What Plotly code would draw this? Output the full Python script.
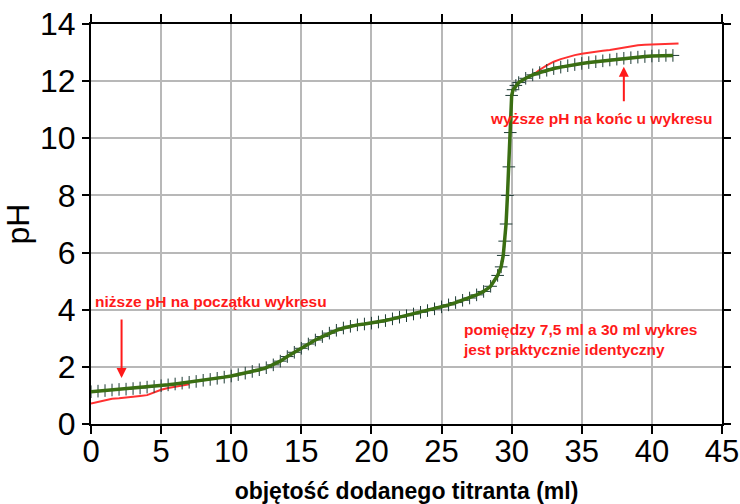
import plotly.graph_objects as go

# Measured titration curve (green)
vol_meas = [0, 0.5, 1, 1.5, 2, 2.5, 3, 3.5, 4, 4.5, 5, 5.5, 6, 6.5, 7, 7.5, 8, 8.5, 9, 9.5,
            10, 10.5, 11, 11.5, 12, 12.5, 13, 13.5, 14, 14.5, 15, 15.5, 16, 16.5, 17, 17.5,
            18, 18.5, 19, 19.5, 20, 20.5, 21, 21.5, 22, 22.5, 23, 23.5, 24, 24.5, 25, 25.5,
            26, 26.5, 27, 27.5, 28, 28.5, 29, 29.25, 29.4, 29.5, 29.6, 29.7, 29.8, 29.9, 30.0,
            30.1, 30.3, 30.5, 31, 31.5, 32, 32.5, 33, 33.5, 34, 34.5, 35, 35.5, 36, 36.5, 37,
            37.5, 38, 38.5, 39, 39.5, 40, 40.5, 41, 41.5]
ph_meas = [1.13, 1.15, 1.17, 1.19, 1.21, 1.22, 1.24, 1.26, 1.29, 1.31, 1.34, 1.37, 1.40, 1.43,
           1.46, 1.49, 1.53, 1.56, 1.60, 1.64, 1.68, 1.73, 1.78, 1.84, 1.90, 1.97, 2.07, 2.20,
           2.36, 2.51, 2.65, 2.80, 2.94, 3.06, 3.18, 3.28, 3.36, 3.42, 3.47, 3.50, 3.53, 3.57,
           3.62, 3.68, 3.74, 3.79, 3.85, 3.91, 3.97, 4.03, 4.10, 4.17, 4.25, 4.33, 4.41, 4.52,
           4.64, 4.82, 5.20, 5.5, 5.9, 6.4, 7.0, 8.0, 9.0, 10.2, 11.5, 11.7, 11.85, 11.95,
           12.10, 12.22, 12.30, 12.38, 12.44, 12.49, 12.54, 12.58, 12.62, 12.65, 12.68, 12.71,
           12.74, 12.77, 12.80, 12.82, 12.84, 12.86, 12.88, 12.89, 12.90, 12.90]

# Comparison curve (red) - visible only where it differs
vol_ref = [0, 0.5, 1, 1.5, 2, 2.5, 3, 3.5, 4, 4.5, 5, 5.5, 6, 6.5, 7, None,
           31.6, 32, 32.5, 33, 33.5, 34, 34.5, 35, 35.5, 36, 36.5, 37, 37.5, 38, 38.5, 39,
           39.5, 40, 40.5, 41, 41.5, 41.9]
ph_ref = [0.72, 0.78, 0.84, 0.88, 0.90, 0.92, 0.95, 0.98, 1.01, 1.10, 1.20, 1.26, 1.30, 1.34,
          1.39, None,
          12.25, 12.40, 12.55, 12.68, 12.77, 12.85, 12.91, 12.96, 13.00, 13.03, 13.06, 13.09,
          13.13, 13.18, 13.23, 13.26, 13.27, 13.28, 13.29, 13.31, 13.32, 13.32]

x_ticks = [0, 5, 10, 15, 20, 25, 30, 35, 40, 45]
y_ticks = [0, 2, 4, 6, 8, 10, 12, 14]

FONT = "Liberation Sans, Arial, sans-serif"
RED = "#ff1a1a"

fig = go.Figure()
fig.add_trace(go.Scatter(x=vol_ref, y=ph_ref, mode="lines",
                         line=dict(color="#ff3030", width=2), connectgaps=False,
                         showlegend=False, hoverinfo="skip"))
fig.add_trace(go.Scatter(x=vol_meas, y=ph_meas, mode="markers",
                         marker=dict(symbol="cross-thin", size=9,
                                     line=dict(color="#1d3b35", width=1)),
                         showlegend=False, hoverinfo="skip"))
fig.add_trace(go.Scatter(x=vol_meas, y=ph_meas, mode="lines",
                         line=dict(color="#3a6e12", width=3.5),
                         showlegend=False))

ann = []
ann.append(dict(x=0.15, y=4.28, xref="x", yref="y", text="<b>niższe pH na początku wykresu</b>",
                showarrow=False, xanchor="left", yanchor="middle",
                font=dict(family=FONT, size=15.5, color=RED)))
ann.append(dict(x=28.3, y=10.71, xref="x", yref="y", text="<b>wyższe pH na końc u wykresu</b>",
                showarrow=False, xanchor="left", yanchor="middle",
                font=dict(family=FONT, size=15.5, color=RED)))
ann.append(dict(x=26.4, y=2.96, xref="x", yref="y",
                text="<b>pomiędzy 7,5 ml a 30 ml wykres<br>jest praktycznie identyczny</b>",
                showarrow=False, xanchor="left", yanchor="middle", align="left",
                font=dict(family=FONT, size=15.5, color=RED)))
# arrows
ann.append(dict(x=2.18, y=1.61, ax=2.18, ay=3.71, xref="x", yref="y", axref="x", ayref="y",
                text="", showarrow=True, arrowhead=2, arrowsize=1, arrowwidth=2,
                arrowcolor=RED))
ann.append(dict(x=38.0, y=12.5, ax=38.0, ay=11.24, xref="x", yref="y", axref="x", ayref="y",
                text="", showarrow=True, arrowhead=2, arrowsize=1, arrowwidth=2,
                arrowcolor=RED))

fig.update_layout(
    width=740, height=504,
    margin=dict(l=91, r=18, t=24, b=80),
    paper_bgcolor="white", plot_bgcolor="white",
    font=dict(family=FONT, color="black"),
    annotations=ann,
    xaxis=dict(range=[0, 45], tickvals=x_ticks, ticktext=[str(v) for v in x_ticks],
               showgrid=True, gridcolor="#b8b8b8", gridwidth=2,
               showline=True, linecolor="black", linewidth=2, mirror="ticks",
               ticks="outside", ticklen=8, tickwidth=2, tickcolor="black",
               tickfont=dict(size=31, family=FONT), zeroline=False, automargin=False,
               ticklabeloverflow="allow", ticklabelstandoff=-9,
               title=dict(text="<b>objętość dodanego titranta (ml)</b>",
                          font=dict(size=23, family=FONT), standoff=19)),
    yaxis=dict(range=[0, 14], tickvals=y_ticks, ticktext=[str(v) for v in y_ticks],
               showgrid=True, gridcolor="#b8b8b8", gridwidth=2,
               showline=True, linecolor="black", linewidth=2, mirror="ticks",
               ticks="outside", ticklen=7, tickwidth=2, tickcolor="black",
               tickfont=dict(size=32, family=FONT), zeroline=False, automargin=False,
               ticklabeloverflow="allow",
               title=dict(text="pH", font=dict(size=32, family=FONT), standoff=14)),
)

# remove the default 8px page margin so the 740x504 figure fills the window exactly
fig.write_html("out.html", config={"displayModeBar": False},
               post_script="document.body.style.margin='0';")
